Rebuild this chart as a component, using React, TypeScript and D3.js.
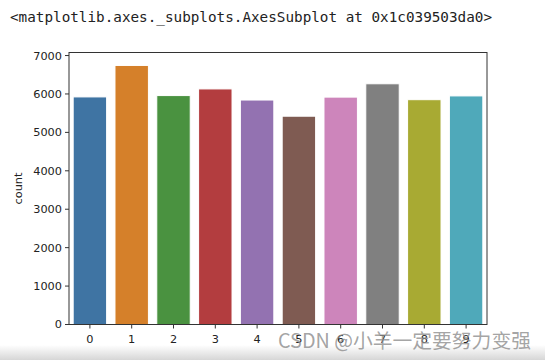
import React from "react";
import * as d3 from "d3";

const digits = ["0", "1", "2", "3", "4", "5", "6", "7", "8", "9"];
const counts = [5923, 6742, 5958, 6131, 5842, 5421, 5918, 6265, 5851, 5949];
const palette = ["#3f74a3", "#d5802a", "#4a9240", "#b33d3f", "#9372b1", "#7f5b52", "#cd85bb", "#808080", "#a8aa33", "#4fa9ba"];
const yTicks = [0, 1000, 2000, 3000, 4000, 5000, 6000, 7000];
const reprText = "<matplotlib.axes._subplots.AxesSubplot at 0x1c039503da0>";
const watermark = "CSDN @小羊一定要努力变强";

const W = 545;
const H = 360;
const plot = { left: 69, right: 487, top: 52.5, bottom: 324.5 };

export default function App() {
  const yMax = d3.max(counts)! * 1.05;
  const x = d3.scaleBand().domain(digits).range([plot.left, plot.right]).paddingInner(0.2).paddingOuter(0.1);
  const y = d3.scaleLinear().domain([0, yMax]).range([plot.bottom, plot.top]);
  const tickFont = "'DejaVu Sans', sans-serif";

  return (
    <svg width={W} height={H} style={{ position: "fixed", left: 0, top: 0, background: "#fff" }}>
      <defs>
        <linearGradient id="bottomShade" x1="0" y1="0" x2="0" y2="1">
          <stop offset="0" stopColor="#ffffff" />
          <stop offset="1" stopColor="#d6d6d6" />
        </linearGradient>
      </defs>
      <rect x={0} y={0} width={W} height={H} fill="#fff" />
      <text x={10} y={22} fontFamily="'DejaVu Sans Mono', 'Liberation Mono', monospace" fontSize={14.3} fill="#222">
        {reprText}
      </text>

      {digits.map((d, i) => (
        <rect
          key={d}
          x={x(d)!}
          y={y(counts[i])}
          width={x.bandwidth()}
          height={y(0) - y(counts[i])}
          fill={palette[i]}
          stroke="#fff"
          strokeWidth={1}
        />
      ))}

      <rect
        x={plot.left}
        y={plot.top}
        width={plot.right - plot.left}
        height={plot.bottom - plot.top}
        fill="none"
        stroke="#333"
        strokeWidth={1}
      />

      {yTicks.map((t) => (
        <g key={t} transform={`translate(0,${y(t)})`}>
          <line x1={plot.left - 4} x2={plot.left} stroke="#333" />
          <text x={plot.left - 7} dy="0.35em" textAnchor="end" fontFamily={tickFont} fontSize={11.3} fill="#222">
            {t}
          </text>
        </g>
      ))}

      {digits.map((d) => {
        const cx = x(d)! + x.bandwidth() / 2;
        return (
          <g key={d} transform={`translate(${cx},${plot.bottom})`}>
            <line y1={0} y2={4} stroke="#333" />
            <text y={18} textAnchor="middle" fontFamily={tickFont} fontSize={11.3} fill="#222">
              {d}
            </text>
          </g>
        );
      })}

      <text
        transform={`translate(22,${(plot.top + plot.bottom) / 2}) rotate(-90)`}
        textAnchor="middle"
        fontFamily={tickFont}
        fontSize={11.3}
        fill="#222"
      >
        count
      </text>

      <rect x={0} y={345} width={W} height={15} fill="url(#bottomShade)" />

      <text
        x={278}
        y={348}
        fontFamily="'Noto Sans CJK SC', 'Noto Sans', sans-serif"
        fontSize={19.8}
        fill="#8c8c8c"
        fillOpacity={0.8}
      >
        {watermark}
      </text>
    </svg>
  );
}
